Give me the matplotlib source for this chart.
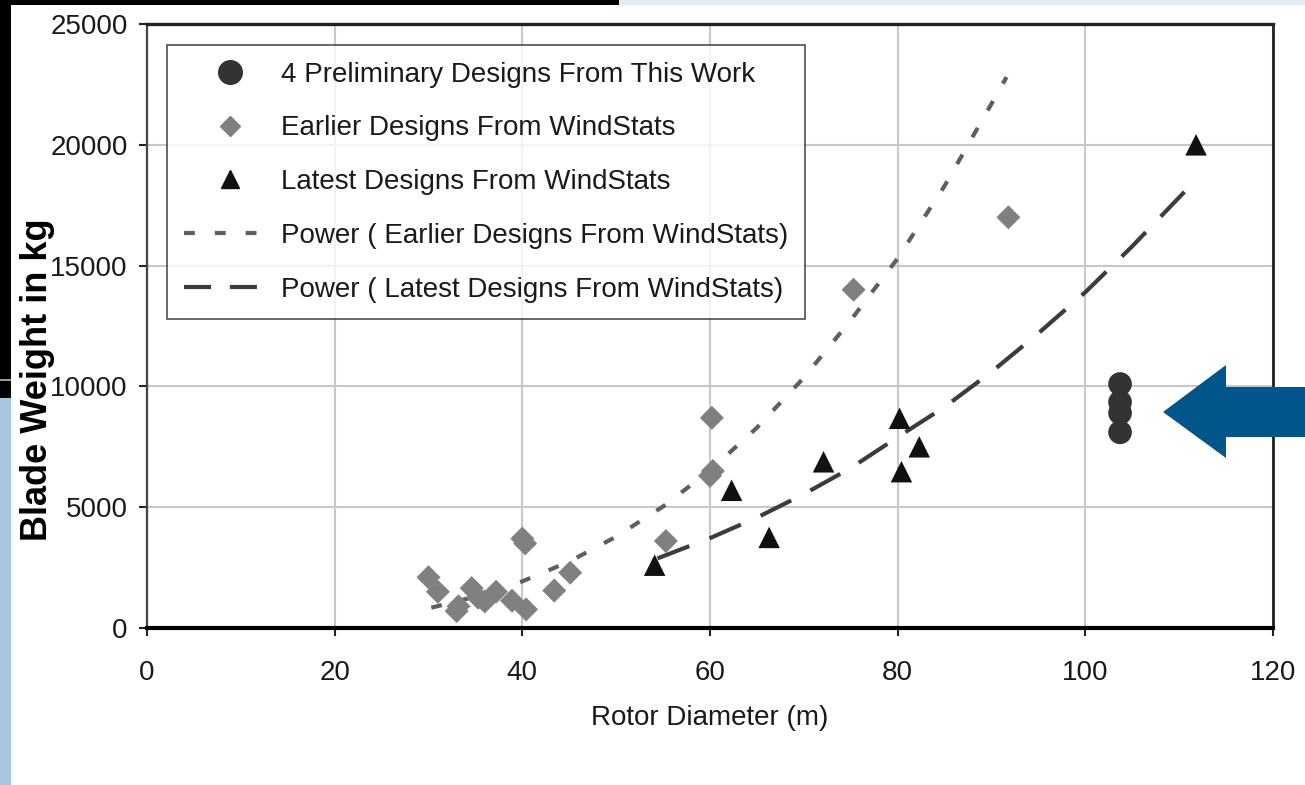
import numpy as np
import matplotlib.pyplot as plt
from matplotlib.patches import Rectangle, Polygon
from matplotlib.lines import Line2D

plt.rcParams['font.family'] = ['Liberation Sans', 'DejaVu Sans']

# Data
prelim_x = [103.7, 103.7, 103.7, 103.7]
prelim_y = [10100, 9350, 8900, 8100]

earlier_x = [30, 31, 33, 33.2, 34.6, 35.3, 36, 37.2, 38.9, 40.4,
             40, 40.3, 43.4, 45.1, 55.3, 60.2, 60.3, 60, 75.3, 91.8]
earlier_y = [2100, 1500, 700, 900, 1650, 1250, 1100, 1500, 1130, 770,
             3700, 3500, 1550, 2290, 3600, 8700, 6500, 6300, 14000, 17000]

latest_x = [54.1, 62.3, 66.3, 72.1, 80.2, 80.4, 82.3, 111.8]
latest_y = [2600, 5700, 3750, 6880, 8680, 6470, 7500, 20000]

# trendlines
earlier_fit_x = [30.3, 35, 40, 45, 50, 55, 60, 65, 70, 75, 80, 85, 90, 91.6]
earlier_fit_y = [840, 1300, 1930, 2750, 3780, 5030, 6520, 8290, 10360,
                 12740, 15300, 18300, 21700, 22800]

latest_fit_x = [54.4, 60, 65, 70, 75, 80, 85, 90, 95, 100, 105, 111.1]
latest_fit_y = [2880, 3720, 4570, 5540, 6620, 7900, 9150, 10600, 12200,
                13900, 15800, 18270]

x_ticks = [0, 20, 40, 60, 80, 100, 120]
y_ticks = [0, 5000, 10000, 15000, 20000, 25000]

W, H = 1305, 785
fig = plt.figure(figsize=(W / 100, H / 100), dpi=100)
fig.patch.set_facecolor('white')

# slide background bits
def px_rect(x0, y0, x1, y1, color, z=0):
    fig.add_artist(Rectangle((x0 / W, 1 - y1 / H), (x1 - x0) / W, (y1 - y0) / H,
                             transform=fig.transFigure, facecolor=color,
                             edgecolor='none', zorder=z))

px_rect(0, 0, 619, 5, 'black')
px_rect(619, 0, W, 5, '#e3ebf4')
px_rect(0, 0, 11, 398, 'black')
px_rect(0, 379, 11, 381, '#9a9a9a')
px_rect(0, 398, 11, H, '#a9c5df')

ax = fig.add_axes([147 / W, 1 - 628 / H, (1273 - 147) / W, (628 - 24) / H])
ax.set_xlim(0, 120)
ax.set_ylim(0, 25000)
ax.set_xticks(x_ticks)
ax.set_yticks(y_ticks)
ax.grid(True, color='#c8c8c8', linewidth=1.5)
ax.set_axisbelow(True)

ax.spines['top'].set_color('#222222')
ax.spines['top'].set_linewidth(2.4)
ax.spines['right'].set_color('#222222')
ax.spines['right'].set_linewidth(2)
ax.spines['left'].set_color('#444444')
ax.spines['left'].set_linewidth(1.6)
ax.spines['bottom'].set_color('black')
ax.spines['bottom'].set_linewidth(3)

ax.tick_params(axis='both', direction='out', length=6, width=1.5,
               color='#222222', labelsize=20, labelcolor='#1a1a1a')
ax.tick_params(axis='y', pad=8)
ax.tick_params(axis='x', pad=17)

earlier_dash = (2.6, 4.8)
latest_dash = (8.2, 5.2)
ax.plot(earlier_fit_x, earlier_fit_y, color='#5f5f5f', linewidth=3,
        dashes=earlier_dash, zorder=3)
ax.plot(latest_fit_x, latest_fit_y, color='#3c3c3c', linewidth=3,
        dashes=latest_dash, zorder=3)

ax.scatter(earlier_x, earlier_y, marker='D', s=150, color='#808080',
           edgecolors='none', zorder=4)
ax.scatter(latest_x, latest_y, marker='^', s=240, color='#111111',
           edgecolors='none', zorder=4)
ax.scatter(prelim_x, prelim_y, marker='o', s=290, color='#333333',
           edgecolors='none', zorder=5)

ax.set_xlabel('Rotor Diameter (m)', fontsize=20, color='#1a1a1a', labelpad=14)
fig.text(38 / W, 1 - 380 / H, 'Blade Weight in kg', rotation=90,
         fontsize=26, fontweight='bold', ha='center', va='center')

handles = [
    Line2D([], [], linestyle='none', marker='o', markersize=17,
           color='#333333'),
    Line2D([], [], linestyle='none', marker='D', markersize=10,
           color='#808080'),
    Line2D([], [], linestyle='none', marker='^', markersize=13,
           color='#111111'),
    Line2D([], [], color='#5f5f5f', linewidth=3, dashes=earlier_dash),
    Line2D([], [], color='#3c3c3c', linewidth=3, dashes=(6.5, 4.5)),
]
labels = [
    '4 Preliminary Designs From This Work',
    'Earlier Designs From WindStats',
    'Latest Designs From WindStats',
    'Power ( Earlier Designs From WindStats)',
    'Power ( Latest Designs From WindStats)',
]
leg = ax.legend(handles, labels, loc='upper left',
                bbox_to_anchor=(20 / 1126, 1 - 21 / 604), fontsize=20,
                frameon=True, fancybox=False, edgecolor='#222222',
                handlelength=3.3, handletextpad=0.22, labelspacing=1.0,
                borderpad=0.6, borderaxespad=0, labelcolor='#1a1a1a')
leg.get_frame().set_linewidth(1.2)

# blue arrow pointing at the new designs
arrow_px = [(1163, 412), (1226, 365), (1226, 387), (1305, 387),
            (1305, 437), (1226, 437), (1226, 458)]
fig.add_artist(Polygon([(x / W, 1 - y / H) for x, y in arrow_px],
                       closed=True, transform=fig.transFigure,
                       facecolor='#02558b', edgecolor='none', zorder=10))

fig.savefig('out.png', dpi=100)
